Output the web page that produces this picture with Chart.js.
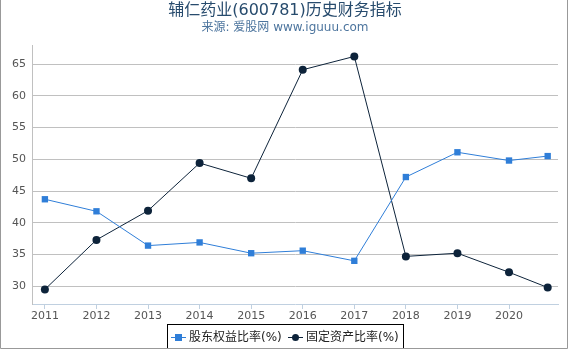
<!DOCTYPE html>
<html>
<head>
<meta charset="utf-8">
<script src="https://cdn.jsdelivr.net/npm/chart.js@4/dist/chart.umd.min.js"></script>
<style>
  body { margin: 0; background: #fff; }
  #wrap { width: 570px; height: 350px; }
</style>
</head>
<body>
<div id="wrap"><canvas id="myChart" width="570" height="350"></canvas></div>
<script>
// data
const titleText = '辅仁药业(600781)历史财务指标';
const subtitleText = '来源: 爱股网 www.iguuu.com';
const years = [2011, 2012, 2013, 2014, 2015, 2016, 2017, 2018, 2019, 2020, 2020.75];
const tickYears = [2011, 2012, 2013, 2014, 2015, 2016, 2017, 2018, 2019, 2020];
const yTicks = [30, 35, 40, 45, 50, 55, 60, 65];
const equityRatio = [43.7, 41.8, 36.4, 36.9, 35.2, 35.6, 34.0, 47.2, 51.1, 49.8, 50.5];
const fixedAssetRatio = [29.5, 37.3, 41.9, 49.4, 47.0, 64.1, 66.2, 34.7, 35.2, 32.2, 29.8];
const seriesNames = ['股东权益比率(%)', '固定资产比率(%)'];

const blue = '#2f7ed8';
const dark = '#0d233a';
const font = '"DejaVu Sans", "Noto Sans CJK SC", sans-serif';

const toPoints = vals => vals.map((v, i) => ({x: years[i], y: v}));

// titles, legend box and frame
const decor = {
    id: 'decor',
    afterDraw(chart) {
        const c = chart.ctx;
        c.save();
        c.textAlign = 'center';
        c.textBaseline = 'middle';
        c.fillStyle = '#274b6d';
        c.font = '16px ' + font;
        c.fillText(titleText, 285, 11);
        c.fillStyle = '#4d759e';
        c.font = '12px ' + font;
        c.fillText(subtitleText, 285, 28);

        // legend
        c.strokeStyle = '#000';
        c.lineWidth = 1;
        c.strokeRect(167.5, 324.5, 236, 24);
        c.font = '12px ' + font;
        c.textAlign = 'left';
        const items = [
            {x: 171, color: blue, style: 'rect', label: seriesNames[0]},
            {x: 288, color: dark, style: 'circle', label: seriesNames[1]}
        ];
        items.forEach(it => {
            c.strokeStyle = it.color;
            c.beginPath();
            c.moveTo(it.x, 337.5);
            c.lineTo(it.x + 15, 337.5);
            c.stroke();
            c.fillStyle = it.color;
            if (it.style === 'rect') {
                c.fillRect(it.x + 4, 334, 7, 7);
            } else {
                c.beginPath();
                c.arc(it.x + 7.5, 337.5, 3.5, 0, Math.PI * 2);
                c.fill();
            }
            c.fillStyle = '#222';
            c.fillText(it.label, it.x + 18, 337.5);
        });

        // frame
        c.strokeStyle = '#999';
        c.beginPath();
        c.moveTo(0.5, 0);
        c.lineTo(0.5, 348.5);
        c.lineTo(567.5, 348.5);
        c.lineTo(567.5, 0);
        c.stroke();
        c.restore();
    }
};

const ctx = document.getElementById('myChart').getContext('2d');
const myChart = new Chart(ctx, {
    type: 'line',
    data: {
        datasets: [{
            label: seriesNames[0],
            data: toPoints(equityRatio),
            borderColor: blue,
            backgroundColor: blue,
            borderWidth: 1,
            pointStyle: 'rect',
            pointRadius: 4.5,
            pointBorderWidth: 0,
            pointHoverRadius: 4.5
        }, {
            label: seriesNames[1],
            data: toPoints(fixedAssetRatio),
            borderColor: dark,
            backgroundColor: dark,
            borderWidth: 1,
            pointStyle: 'circle',
            pointRadius: 4,
            pointBorderWidth: 0,
            pointHoverRadius: 4
        }]
    },
    options: {
        responsive: false,
        animation: false,
        layout: { padding: { left: 0, right: 12, top: 45, bottom: 30 } },
        plugins: {
            legend: { display: false },
            title: { display: false },
            tooltip: { enabled: false }
        },
        scales: {
            x: {
                type: 'linear',
                min: 2010.75,
                max: 2020.95,
                afterBuildTicks: s => { s.ticks = tickYears.map(v => ({value: v})); },
                afterFit: s => { s.height = 16; },
                ticks: {
                    color: '#555',
                    font: { family: font, size: 11 },
                    padding: 1,
                    maxRotation: 0,
                    callback: v => String(v)
                },
                grid: { drawOnChartArea: false, drawTicks: true, tickLength: 5, color: '#c0d0e0' },
                border: { display: true, color: '#c0d0e0' }
            },
            y: {
                min: 27.2,
                max: 68,
                afterBuildTicks: s => { s.ticks = yTicks.map(v => ({value: v})); },
                afterFit: s => { s.width = 32; },
                ticks: {
                    color: '#555',
                    font: { family: font, size: 11 },
                    padding: 6
                },
                grid: { color: '#c0c0c0', drawTicks: false },
                border: { display: true, color: '#c0c0c0' }
            }
        }
    },
    plugins: [decor]
});
</script>
</body>
</html>
